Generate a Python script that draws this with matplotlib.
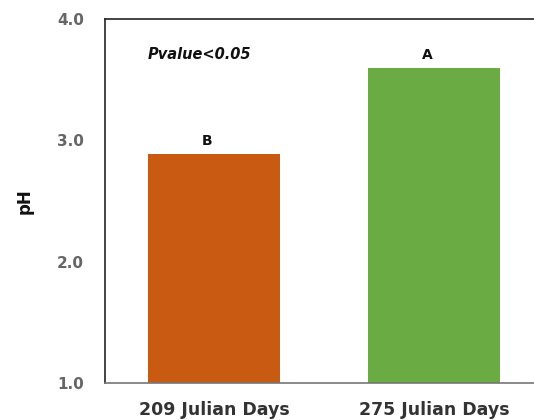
import matplotlib
matplotlib.use("Agg")
import matplotlib.pyplot as plt

categories = ["209 Julian Days", "275 Julian Days"]
ph_values = [2.89, 3.60]
group_letters = ["B", "A"]
bar_colors = ["#C95A12", "#6BAB43"]
y_ticks = [1.0, 2.0, 3.0, 4.0]

plt.rcParams["font.family"] = ["DejaVu Sans"]

fig = plt.figure(figsize=(5.34, 4.20), dpi=100)
ax = fig.add_axes([105 / 534, 1 - 383 / 420, (534 - 105) / 534, (383 - 19) / 420])

x = list(range(len(categories)))
ax.bar(x, [v - 1.0 for v in ph_values], bottom=1.0, width=0.6, color=bar_colors)

for xi, v, letter in zip(x, ph_values, group_letters):
    ax.text(xi - 0.03, v + 0.045, letter, ha="center", va="bottom",
            fontsize=10, fontweight="bold", color="#111111")

ax.text(0.1, 0.903, "Pvalue<0.05", transform=ax.transAxes, ha="left", va="center",
        fontsize=10.5, fontweight="bold", fontstyle="italic", color="#111111")

ax.set_xlim(-0.495, 1.455)
ax.set_ylim(1.0, 4.0)
ax.set_yticks(y_ticks)
ax.set_yticklabels([f"{t:.1f}" for t in y_ticks])
ax.set_xticks(x)
ax.set_xticklabels(categories)

ax.tick_params(axis="both", length=0)
ax.tick_params(axis="y", pad=15, labelsize=11, labelcolor="#666666")
ax.tick_params(axis="x", pad=13, labelsize=12.5, labelcolor="#333333")
for lbl in ax.get_xticklabels() + ax.get_yticklabels():
    lbl.set_fontweight("bold")

ax.set_ylabel("pH", fontsize=12, fontweight="bold", color="#111111", labelpad=17)

for side in ["left", "top", "bottom"]:
    ax.spines[side].set_color("#222222")
    ax.spines[side].set_linewidth(1.2)
ax.spines["right"].set_visible(False)
ax.spines["bottom"].set_color("#777777")

fig.savefig("out.png", dpi=100)
